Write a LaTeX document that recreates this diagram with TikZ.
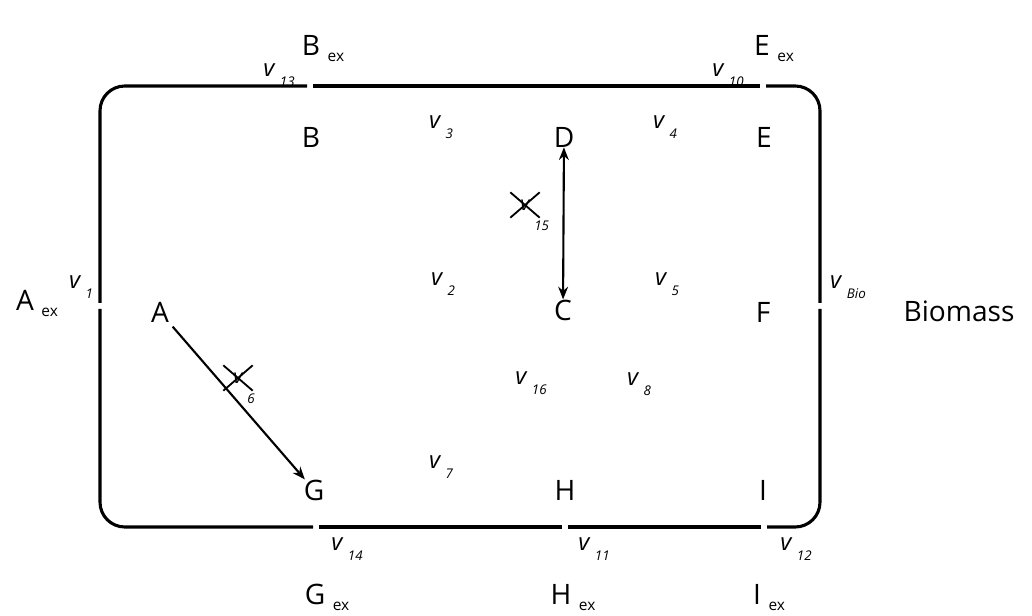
\documentclass[tikz,border=0pt]{standalone}
\usepackage{fontspec}
\setmainfont{Open Sans}
\usetikzlibrary{positioning,arrows.meta,calc}
\newcommand{\fluxv}[1]{{\itshape v}\kern4pt\raisebox{-0.75ex}{\fontsize{9.5}{10}\selectfont\itshape #1}}
\tikzset{
  metab/.style={inner sep=0pt, font=\fontsize{20}{24}\selectfont},
  exlab/.style={inner sep=0pt, font=\fontsize{11}{12}\selectfont, xshift=5pt, yshift=-9pt},
  flux/.style={inner sep=0pt, font=\fontsize{17}{20}\selectfont},
  knock/.style={inner sep=0pt, minimum width=0.72cm, minimum height=0.62cm, font=\fontsize{14}{16}\selectfont},
  sublab/.style={inner sep=0pt, font=\fontsize{9.5}{10}\selectfont\itshape},
  border/.style={line width=2.2pt, rounded corners=0.62cm},
  react/.style={line width=1.5pt, -{Stealth[length=9pt,width=7pt]}},
  cross/.style={line width=1.3pt}
}
\begin{document}
\begin{tikzpicture}[x=0.025cm, y=-0.025cm]
    \useasboundingbox (0,0) rectangle (1032,616);

    % cell border, with openings for the exchange fluxes
    \coordinate (tl) at (100,86);
    \coordinate (tr) at (820,86);
    \coordinate (br) at (820,527);
    \coordinate (bl) at (100,527);
    \draw[border] (307,86) -- (tl) -- (100,303);
    \draw[border] (313,86) -- (760,86);
    \draw[border] (766,86) -- (tr) -- (820,303);
    \draw[border] (820,309) -- (br) -- (767,527);
    \draw[border] (761,527) -- (568,527);
    \draw[border] (562,527) -- (319,527);
    \draw[border] (313,527) -- (bl) -- (100,309);

    % metabolites
    \node[metab] (B) at (311,137) {B};
    \node[metab] (D) at (564,137) {D};
    \node[metab] (E) at (764,137) {E};
    \node[metab] (A) at (160,312) {A};
    \node[metab] (C) at (563,310) {C};
    \node[metab] (F) at (763,312) {F};
    \node[metab] (G) at (314,490) {G};
    \node[metab] (H) at (565,490) {H};
    \node[metab] (I) at (763,490) {I};
    \node[metab] (bio) at (959,311) {Biomass};

    % external metabolites
    \node[metab, label={[exlab]right:ex}] (Bex) at (311,45) {B};
    \node[metab, label={[exlab]right:ex}] (Eex) at (762,45) {E};
    \node[metab, label={[exlab]right:ex}] (Aex) at (25,300) {A};
    \node[metab, label={[exlab]right:ex}] (Gex) at (315,594) {G};
    \node[metab, label={[exlab]right:ex}] (Hex) at (561,594) {H};
    \node[metab, label={[exlab]right:ex}] (Iex) at (757,594) {I};

    % fluxes
    \node[flux] (v13) at (279,75) {\fluxv{13}};
    \node[flux] (v10) at (728,75) {\fluxv{10}};
    \node[flux] (v3) at (441,127) {\fluxv{3}};
    \node[flux] (v4) at (665,127) {\fluxv{4}};
    \node[flux] (v1) at (81,287) {\fluxv{1}};
    \node[flux] (v2) at (443,284) {\fluxv{2}};
    \node[flux] (v5) at (667,284) {\fluxv{5}};
    \node[flux] (vbio) at (848,287) {\fluxv{Bio}};
    \node[flux] (v16) at (531,383) {\fluxv{16}};
    \node[flux] (v8) at (639,384) {\fluxv{8}};
    \node[flux] (v7) at (441,467) {\fluxv{7}};
    \node[flux] (v14) at (347,549) {\fluxv{14}};
    \node[flux] (v11) at (594,549) {\fluxv{11}};
    \node[flux] (v12) at (796,549) {\fluxv{12}};

    % knocked-out reactions
    \draw[react, shorten <=4pt] (A) -- (G);
    \draw[react, {Stealth[length=9pt,width=7pt]}-{Stealth[length=9pt,width=7pt]}] (D) -- (C);

    \node[knock, label={[sublab, xshift=-4pt, yshift=-2pt]south east:15}] (k15) at (525,205) {\itshape v};
    \draw[cross] (k15.north west) -- (k15.south east);
    \draw[cross] (k15.south west) -- (k15.north east);
    \node[knock, label={[sublab, xshift=-4pt, yshift=-2pt]south east:6}] (k6) at (238,378) {\itshape v};
    \draw[cross] (k6.north west) -- (k6.south east);
    \draw[cross] (k6.south west) -- (k6.north east);
\end{tikzpicture}
\end{document}
